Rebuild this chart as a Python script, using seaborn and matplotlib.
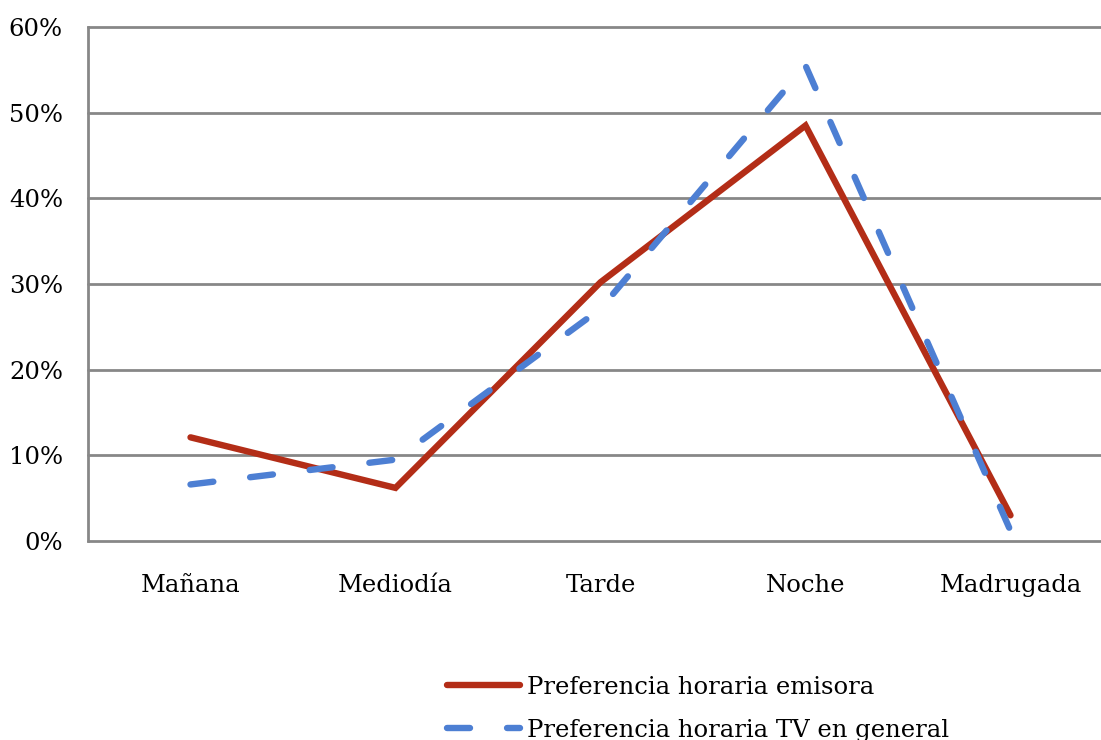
import matplotlib
matplotlib.use("Agg")
import matplotlib.pyplot as plt
import seaborn as sns
import pandas as pd
from matplotlib.ticker import FuncFormatter, MultipleLocator

categories = ["Mañana", "Mediodía", "Tarde", "Noche", "Madrugada"]
emisora = [12.1, 6.2, 30.2, 48.5, 3.0]
tv_general = [6.6, 9.5, 27.1, 55.5, 1.2]
series_names = ["Preferencia horaria emisora", "Preferencia horaria TV en general"]

sns.set_theme(style="white")
plt.rcParams["font.family"] = ["DejaVu Serif"]
plt.rcParams["text.color"] = "black"

fig = plt.figure(figsize=(11.01, 7.40), dpi=100)
ax = fig.add_axes([88 / 1101, 1 - 541 / 740, 1025 / 1101, 514 / 740])

pos = list(range(len(categories)))
df1 = pd.DataFrame({"x": pos, "y": emisora})
df2 = pd.DataFrame({"x": pos, "y": tv_general})

sns.lineplot(data=df1, x="x", y="y", ax=ax, color="#B32D17", linewidth=4.6,
             label=series_names[0], legend=False)
sns.lineplot(data=df2, x="x", y="y", ax=ax, color="#4D7FD3", linewidth=4.6,
             label=series_names[1], legend=False)
l1, l2 = ax.get_lines()[:2]
l1.set_solid_capstyle("round")
l1.set_solid_joinstyle("miter")
l2.set_dashes((3.6, 5.8))
l2.set_dash_capstyle("round")
l2.set_zorder(3)
l1.set_zorder(2.5)

ax.set_xlim(-0.5, 4.5)
ax.set_ylim(0, 60)
ax.set_xticks(pos)
ax.set_xticklabels(categories)
ax.yaxis.set_major_locator(MultipleLocator(10))
ax.yaxis.set_major_formatter(FuncFormatter(lambda v, p: f"{int(round(v))}%"))
ax.set_xlabel("")
ax.set_ylabel("")

ax.grid(axis="y", color="#878787", linewidth=2.0)
ax.grid(axis="x", visible=False)
ax.set_axisbelow(True)
for gl in ax.get_ygridlines():
    gl.set_clip_on(False)
for s in ["top", "right", "bottom"]:
    ax.spines[s].set_visible(False)
ax.spines["left"].set_color("#878787")
ax.spines["left"].set_linewidth(2.0)

ax.tick_params(axis="both", length=0, labelsize=17.5, colors="black")
ax.tick_params(axis="x", pad=24)
ax.tick_params(axis="y", pad=18)

leg = fig.legend(handles=[l1, l2], labels=series_names, loc="upper left",
                 bbox_to_anchor=(447 / 1101, 1 - 676 / 740), frameon=False,
                 fontsize=17.5, handlelength=3.0, handletextpad=0.28,
                 labelspacing=0.82, borderaxespad=0, borderpad=0)
for t in leg.get_texts():
    t.set_color("black")

fig.savefig("out.png", dpi=100)
